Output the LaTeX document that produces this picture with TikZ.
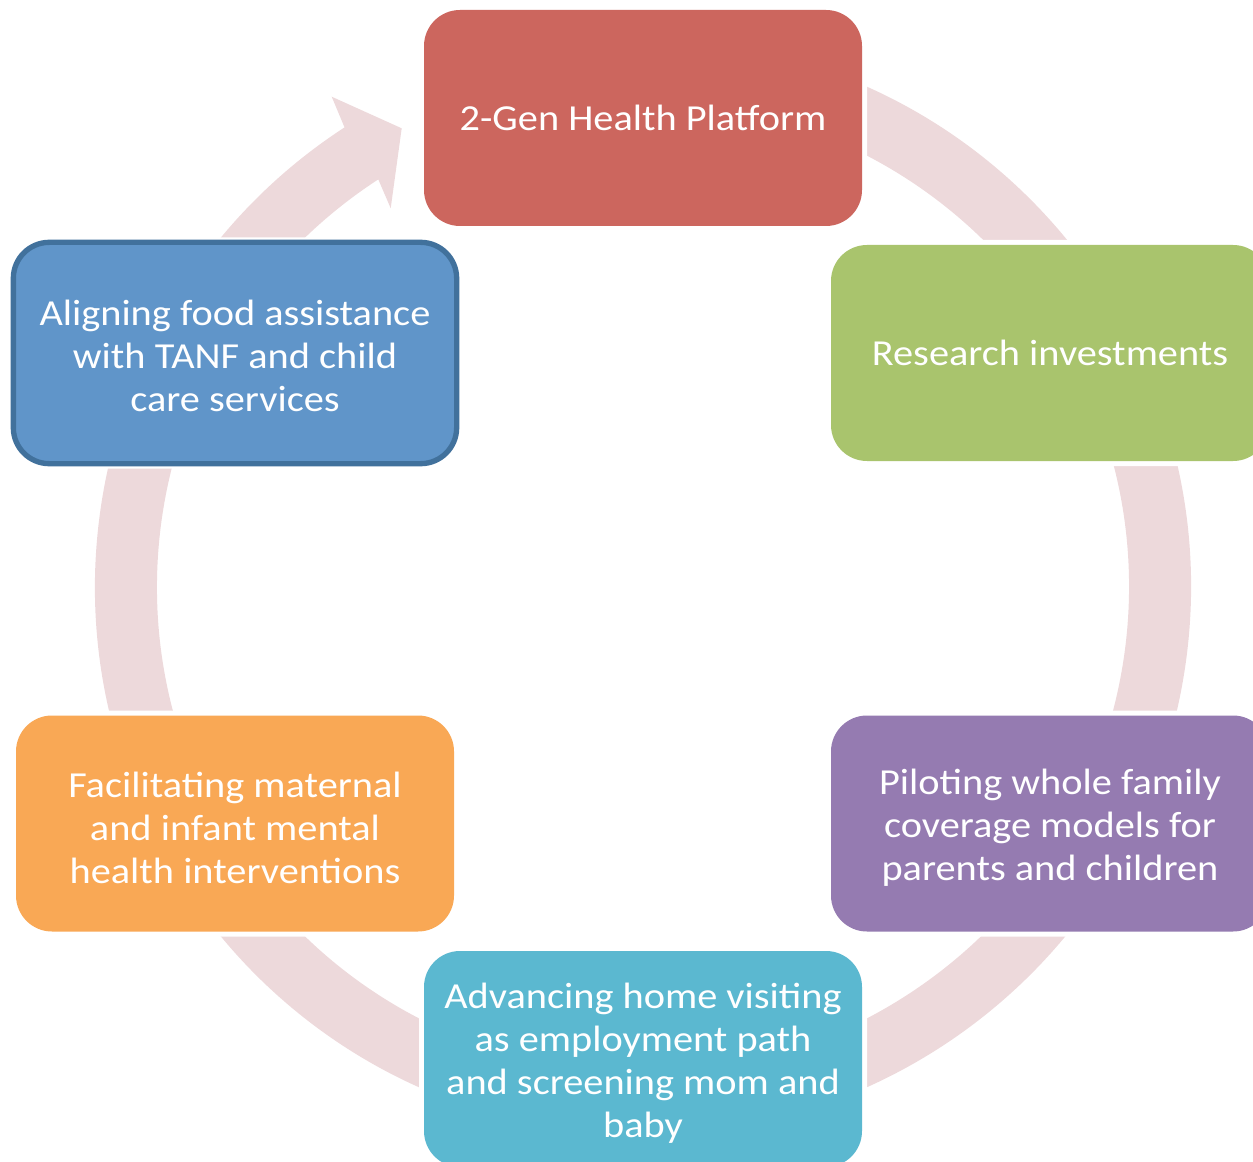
\documentclass[tikz,border=0pt]{standalone}
\usepackage{fontspec}
\setmainfont{Carlito}[FakeStretch=1.1]
\definecolor{ringc}{HTML}{EDD9DB}
\definecolor{redc}{HTML}{CC665E}
\definecolor{greenc}{HTML}{A9C46D}
\definecolor{purplec}{HTML}{957BB1}
\definecolor{cyanc}{HTML}{5BB8D0}
\definecolor{orangec}{HTML}{F9A855}
\definecolor{bluec}{HTML}{6095C9}
\definecolor{blueb}{HTML}{41719C}
\newcommand\toppad[1]{\rule{0pt}{#1}}
\tikzset{
  cyclebox/.style={rectangle, rounded corners=27pt, minimum width=328.5pt,
    minimum height=162pt, inner sep=0pt, text=white, align=center,
    font=\fontsize{27.5pt}{32.25pt}\selectfont,
    preaction={draw=white, line width=7.5pt}},
}
\begin{document}
\begin{tikzpicture}[x=0.75pt,y=-0.75pt]
\useasboundingbox (0,0) rectangle (1253,1162);
\coordinate (c) at (643,587);
\coordinate (ob) at (331.7,96.7);
\coordinate (tip) at (401.7,128.3);
\coordinate (ib) at (390.7,208.3);
\coordinate (ie) at (378.3,179.4);
% ring arrow
\fill[ringc] (c) ++(-80:548) arc[start angle=-80, end angle=237, radius=548]
  -- (ob) -- (tip) -- (ib) -- (ie)
  arc[start angle=237, end angle=-80, radius=486] -- cycle;
% boxes
\node[cyclebox, fill=redc] (n1) at (643,118) {2-Gen Health Platform};
\node[cyclebox, fill=greenc] (n2) at (1050,353) {Research investments};
\node[cyclebox, fill=purplec] (n3) at (1050,823.5) {\toppad{25.5pt}Piloting whole family\\coverage models for\\parents and children};
\node[cyclebox, fill=cyanc] (n4) at (643,1059) {\toppad{25.5pt}Advancing home visiting\\as employment path\\and screening mom and\\baby};
\node[cyclebox, fill=orangec] (n5) at (235,823.5) {\toppad{25.5pt}Facilitating maternal\\and infant mental\\health interventions};
\node[cyclebox, fill=bluec, draw=blueb, line width=4pt, minimum width=332.5pt,
  minimum height=166pt, preaction={}] (n6) at (235,353)
  {\toppad{23pt}Aligning food assistance\\with TANF and child\\care services};
\end{tikzpicture}
\end{document}
